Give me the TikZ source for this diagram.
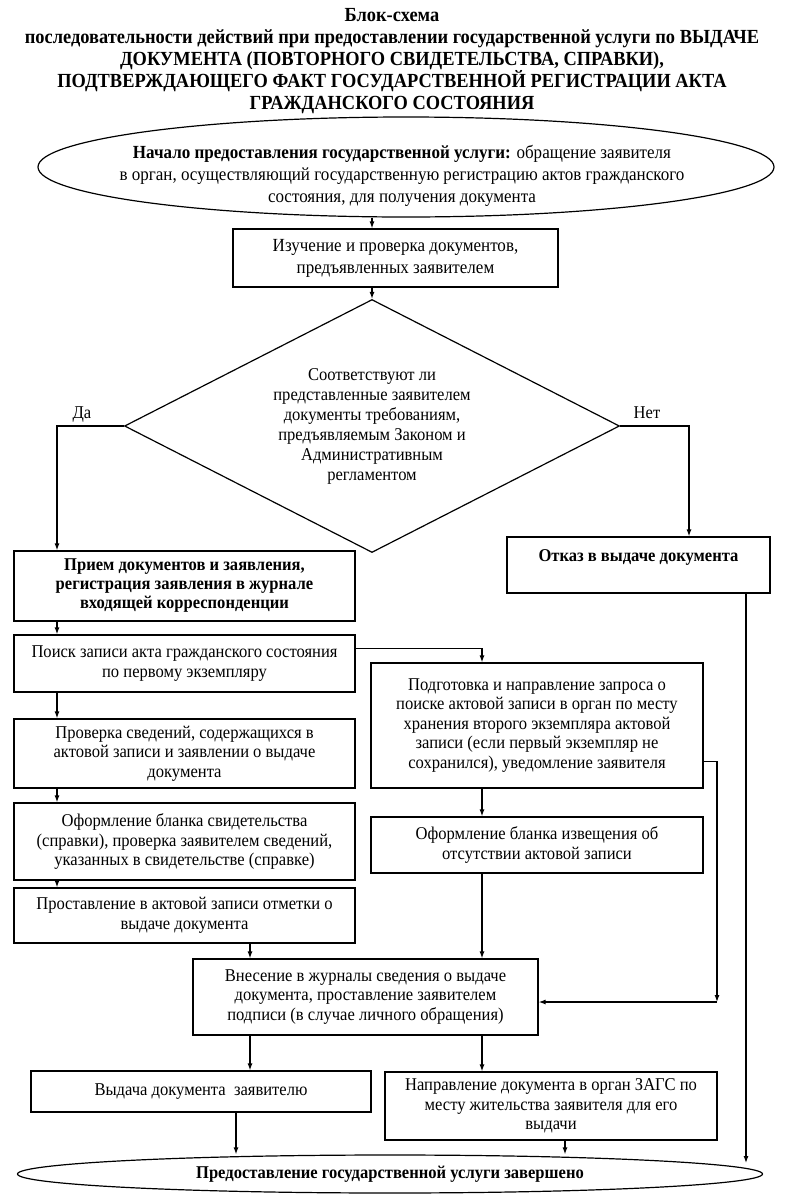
\documentclass[tikz,border=0pt]{standalone}
\usepackage{fontspec}
\setmainfont{Liberation Serif}[FakeStretch=0.92]
\usetikzlibrary{shapes.geometric,arrows.meta}

\tikzset{
  box/.style={draw, line width=1.2pt, align=center, inner sep=0pt, font=\fontsize{18}{19.5}\selectfont},
  ell/.style={draw, ellipse, line width=1.2pt, align=center, inner sep=0pt},
  arr/.style={line width=1.2pt, -{Latex[length=7pt,width=5pt]}},
  ln/.style={line width=1.2pt}
}

\begin{document}
\begin{tikzpicture}[x=1pt,y=-1pt]
\useasboundingbox (0,0) rectangle (785,1200);
\coordinate (colL) at (57,0);
\coordinate (colB) at (250,0);
\coordinate (colV) at (236,0);
\coordinate (colM) at (482,0);
\coordinate (colW) at (565,0);
\coordinate (colN) at (689,0);
\coordinate (colR) at (717,0);
\coordinate (colE) at (746,0);
\node[align=center, font=\fontsize{20}{21.8}\selectfont\bfseries] (title) at (392,61) {Блок-схема\\
последовательности действий при предоставлении государственной услуги по ВЫДАЧЕ\\
ДОКУМЕНТА (ПОВТОРНОГО СВИДЕТЕЛЬСТВА, СПРАВКИ),\\
ПОДТВЕРЖДАЮЩЕГО ФАКТ ГОСУДАРСТВЕННОЙ РЕГИСТРАЦИИ АКТА\\
ГРАЖДАНСКОГО СОСТОЯНИЯ};
\node[ell, minimum width=736pt, minimum height=100pt] (nach) at (406,167) {};
\node[align=center, font=\fontsize{18.5}{22}\selectfont] (nachtext) at (402,176)
  {\textbf{Начало предоставления государственной услуги:} обращение заявителя\\
  в орган, осуществляющий государственную регистрацию актов гражданского\\
  состояния, для получения документа};
\node[box, minimum width=325pt, minimum height=58pt, font=\fontsize{18.5}{22}\selectfont] (isuch) at (395.5,258)
  {Изучение и проверка документов,\\ предъявленных заявителем};
\node[draw, diamond, aspect=2, line width=1.2pt, align=center, inner sep=0pt,
  minimum width=495pt, minimum height=253pt, font=\fontsize{18}{20}\selectfont] (diam) at (372,426)
  {Соответствуют ли\\ представленные заявителем\\ документы требованиям,\\
  предъявляемым Законом и\\ Административным\\ регламентом};
\node[font=\fontsize{18}{19.5}\selectfont] (da) at (82,415) {Да};
\node[font=\fontsize{18}{19.5}\selectfont] (net) at (647,413) {Нет};
\node[box, minimum width=341pt, minimum height=70pt, font=\fontsize{18}{19}\selectfont\bfseries] (priem) at (184.5,586)
  {Прием документов и заявления,\\ регистрация заявления в журнале\\ входящей корреспонденции};
\node[box, minimum width=263pt, minimum height=56pt, font=\fontsize{18}{19.5}\selectfont\bfseries] (otkaz) at (638.5,565)
  {Отказ в выдаче документа\\ ~};
\node[box, minimum width=341pt, minimum height=57pt] (poisk) at (184.5,663.5)
  {Поиск записи акта гражданского состояния\\ по первому экземпляру};
\node[box, minimum width=332pt, minimum height=125pt] (podg) at (537,725.5)
  {Подготовка и направление запроса о\\ поиске актовой записи в орган по месту\\
  хранения второго экземпляра актовой\\ записи (если первый экземпляр не\\
  сохранился), уведомление заявителя};
\node[box, minimum width=341pt, minimum height=69pt] (prov) at (184.5,753.5)
  {Проверка сведений, содержащихся в\\ актовой записи и заявлении о выдаче\\ документа};
\node[box, minimum width=341pt, minimum height=77pt] (oform) at (184.5,841.5)
  {Оформление бланка свидетельства\\ (справки), проверка заявителем сведений,\\
  указанных в свидетельстве (справке)};
\node[box, minimum width=332pt, minimum height=56pt] (izv) at (537,845)
  {Оформление бланка извещения об\\ отсутствии актовой записи};
\node[box, minimum width=341pt, minimum height=55pt] (prost) at (184.5,915.5)
  {Проставление в актовой записи отметки о\\ выдаче документа};
\node[box, minimum width=345pt, minimum height=76pt] (vnes) at (365.5,997)
  {Внесение в журналы сведения о выдаче\\ документа, проставление заявителем\\
  подписи (в случае личного обращения)};
\node[box, minimum width=340pt, minimum height=41pt] (vyd) at (201,1091.5)
  {Выдача документа \ заявителю};
\node[box, minimum width=332pt, minimum height=68pt] (napr) at (551,1106)
  {Направление документа в орган ЗАГС по\\ месту жительства заявителя для его\\ выдачи};
\node[ell, minimum width=745pt, minimum height=38pt, font=\fontsize{18}{19.5}\selectfont\bfseries] (kon) at (390,1174)
  {Предоставление государственной услуги завершено};
\draw[arr] (nach.south -| diam.north) -- (isuch.north -| diam.north);
\draw[arr] (isuch.south -| diam.north) -- (diam.north);
\draw[arr] (diam.west) -| (priem.north -| colL);
\draw[arr] (diam.east) -| (otkaz.north -| colN);
\draw[arr] (priem.south -| colL) -- (poisk.north -| colL);
\draw[arr] (poisk.south -| colL) -- (prov.north -| colL);
\draw[arr] (prov.south -| colL) -- (oform.north -| colL);
\draw[arr] (oform.south -| colL) -- (prost.north -| colL);
\draw[arr] ([yshift=-14pt]poisk.north east) -| (podg.north -| colM);
\draw[arr] (podg.south -| colM) -- (izv.north -| colM);
\draw[arr] (izv.south -| colM) -- (vnes.north -| colM);
\draw[arr] (prost.south -| colB) -- (vnes.north -| colB);
\draw[arr] ([yshift=-36pt]podg.east) -| ([yshift=-5pt]vnes.east -| colR);
\draw[arr] ([yshift=-5pt]vnes.east -| colR) -- ([yshift=-5pt]vnes.east);
\draw[arr] (vnes.south -| colB) -- (vyd.north -| colB);
\draw[arr] (vnes.south -| colM) -- (napr.north -| colM);
\draw[arr] (vyd.south -| colV) -- (kon.north -| colV);
\draw[arr] (napr.south -| colW) -- (kon.north -| colW);
\draw[arr] (otkaz.south -| colE) -- ([yshift=11pt]kon.center -| colE);
\end{tikzpicture}
\end{document}
